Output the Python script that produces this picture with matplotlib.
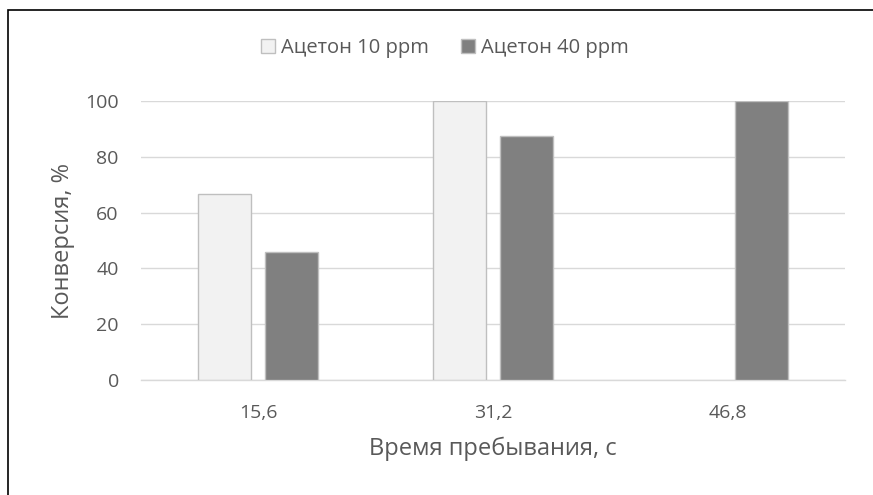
import matplotlib
matplotlib.use("Agg")
import matplotlib.pyplot as plt
from matplotlib.patches import Rectangle
import numpy as np

plt.rcParams["font.family"] = ["Open Sans", "DejaVu Sans"]

categories = ["15,6", "31,2", "46,8"]
series_names = ["Ацетон 10 ppm", "Ацетон 40 ppm"]
acetone_10 = [66.5, 100.0, np.nan]
acetone_40 = [46.0, 87.5, 100.0]
y_ticks = [0, 20, 40, 60, 80, 100]

text_col = "#595959"
fig = plt.figure(figsize=(8.73, 4.95), dpi=100)
ax = fig.add_axes([0.1615, 0.2323, 0.8065, 0.5636])

x = np.arange(len(categories))
w = 0.2258
off = 0.1427
ax.bar(x - off, acetone_10, w, color="#F2F2F2", edgecolor="#BFBFBF", linewidth=1.0,
       label=series_names[0], zorder=3)
ax.bar(x + off, acetone_40, w, color="#808080", edgecolor="#BFBFBF", linewidth=1.0,
       label=series_names[1], zorder=3)

ax.set_xlim(-0.5, 2.5)
ax.set_ylim(0, 100)
ax.set_yticks(y_ticks)
ax.set_xticks(x)
ax.set_xticklabels(categories)
ax.yaxis.grid(True, color="#D9D9D9", linewidth=1.0, zorder=0)
for s in ["top", "right", "left"]:
    ax.spines[s].set_visible(False)
ax.spines["bottom"].set_color("#D9D9D9")
ax.spines["bottom"].set_linewidth(1.0)
ax.tick_params(axis="both", length=0, labelsize=14, colors=text_col)
ax.tick_params(axis="y", pad=16)
ax.tick_params(axis="x", pad=17)
ax.set_xlabel("Время пребывания, с", fontsize=17, color=text_col, labelpad=11)
ax.set_ylabel("Конверсия, %", fontsize=17, color=text_col, labelpad=7)

fig.legend(loc="center", bbox_to_anchor=(445 / 873, 1 - 48 / 495), ncol=2,
           frameon=False, fontsize=14.5, labelcolor=text_col, handlelength=0.7,
           handleheight=0.7, handletextpad=0.3, columnspacing=1.6)

fig.patches.append(Rectangle((8 / 873, -0.1), 1.2, 1.1 - 10 / 495, transform=fig.transFigure,
                             fill=False, edgecolor="black", linewidth=1.2))

fig.savefig("out.png", dpi=100)
